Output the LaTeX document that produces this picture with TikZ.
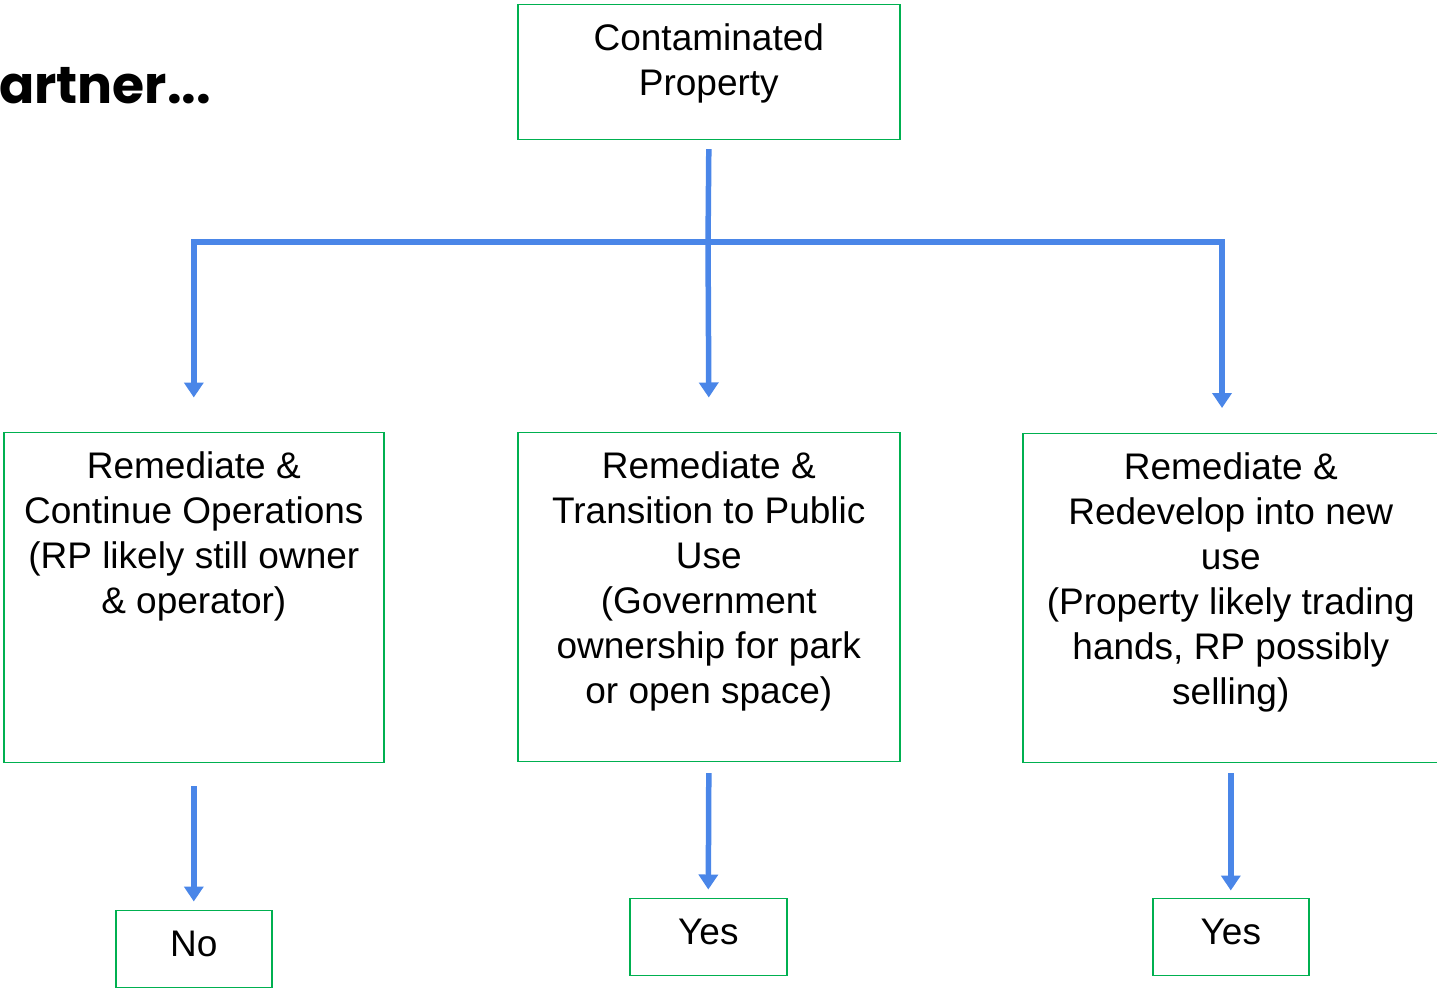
\documentclass[tikz,border=0pt]{standalone}
\usepackage{fontspec}
\setmainfont{Liberation Sans}
\newfontfamily\headfont{Poppins}
\usetikzlibrary{arrows.meta}
\definecolor{boxgreen}{RGB}{0,176,80}
\definecolor{arrblue}{RGB}{74,134,232}
\newcommand{\bxt}[3]{\parbox[c][#2][t]{#1}{\centering\vspace*{14.5pt}\strut #3\par}}
\tikzset{
  box/.style={draw=boxgreen, line width=1.6pt, inner sep=0pt, fill=white},
  line/.style={draw=arrblue, line width=5.5pt},
  arr/.style={line, -{Triangle[length=15pt,width=19pt]}},
}
\begin{document}
\begin{tikzpicture}[x=1pt,y=-1pt, font=\fontsize{37}{45}\selectfont]
\useasboundingbox (0,0) rectangle (1437,988);
% heading fragment
\node[anchor=base west, inner sep=0pt, font=\headfont\bfseries\fontsize{52}{60}\selectfont] (head) at (-1,103) {artner...};
% boxes
\node[box, anchor=north west] (top) at (517,3.5) {\bxt{382pt}{135pt}{Contaminated\\Property}};
\node[box, anchor=north west] (L) at (3,431.5) {\bxt{380pt}{330pt}{Remediate \&\\Continue Operations\\(RP likely still owner\\\& operator)}};
\node[box, anchor=north west] (M) at (517,431.5) {\bxt{382pt}{329pt}{Remediate \&\\Transition to Public\\Use\\(Government\\ownership for park\\or open space)}};
\node[box, anchor=north west] (R) at (1022,432.5) {\bxt{416pt}{329pt}{Remediate \&\\Redevelop into new\\use\\(Property likely trading\\hands, RP possibly\\selling)}};
\node[box, anchor=north west] (no) at (115,909.5) {\bxt{156pt}{77pt}{No}};
\node[box, anchor=north west] (y1) at (629,897.5) {\bxt{157pt}{77pt}{Yes}};
\node[box, anchor=north west] (y2) at (1152,897.5) {\bxt{156pt}{77pt}{Yes}};
% connectors
\coordinate (hub) at (708,242);
\coordinate (rdrop) at (1222,408);
\draw[line] ([yshift=-9pt]top.south) -- ([yshift=-3pt]hub);
\draw[arr] (hub) -| ([yshift=34pt]L.north);
\draw[arr] ([yshift=3pt]hub) -- ([yshift=34pt]M.north);
\draw[arr] (hub) -| (rdrop);
\draw[arr] ([yshift=-23pt]L.south) -- ([yshift=8pt]no.north);
\draw[arr] ([yshift=-11pt]M.south) -- ([yshift=8pt]y1.north);
\draw[arr] ([yshift=-10pt]R.south) -- ([yshift=7pt]y2.north);
\end{tikzpicture}
\end{document}
